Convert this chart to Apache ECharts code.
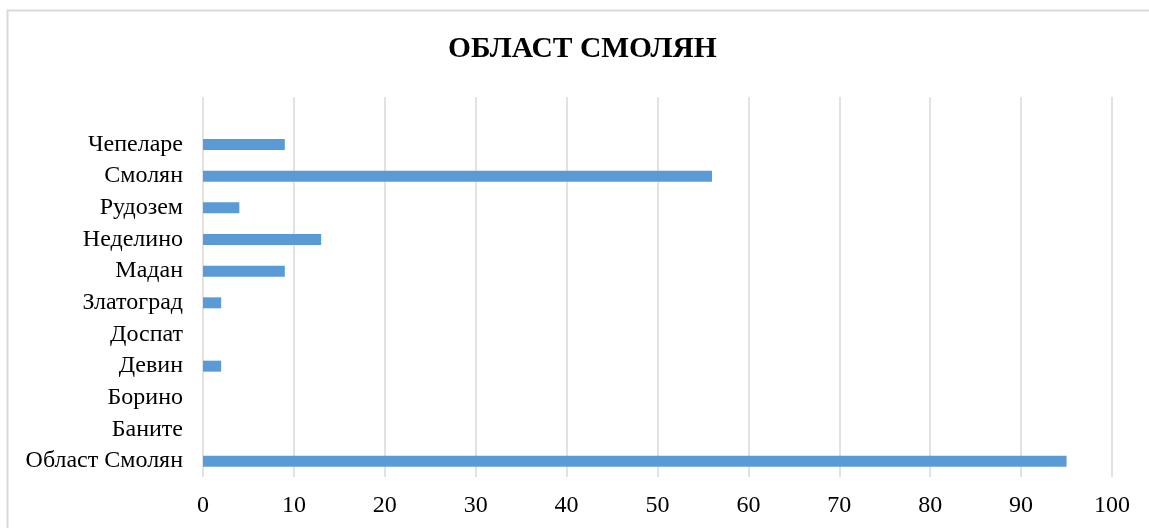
<!DOCTYPE html>
<html>
<head>
<meta charset="utf-8">
<script src="https://cdn.jsdelivr.net/npm/echarts@6/dist/echarts.min.js"></script>
<style>
html,body{margin:0;padding:0;background:#fff;}
#chart{width:1149px;height:528px;}
</style>
</head>
<body>
<div id="chart"></div>
<script>
// Categories bottom-to-top (Excel order); last empty slot is the blank top row
const categories = ['Област Смолян','Баните','Борино','Девин','Доспат','Златоград','Мадан','Неделино','Рудозем','Смолян','Чепеларе',''];
const values = [95, 0, 0, 2, 0, 2, 9, 13, 4, 56, 9, null];
const xTicks = [0,10,20,30,40,50,60,70,80,90,100];
const titleText = 'ОБЛАСТ СМОЛЯН';

const chart = echarts.init(document.getElementById('chart'), null, {renderer:'canvas'});
const serif = '"Liberation Serif", "Times New Roman", serif';
chart.setOption({
  animation:false,
  backgroundColor:'#fff',
  title:{
    text:titleText,
    left:443, top:29,
    textStyle:{fontFamily:serif, fontWeight:'bold', fontSize:29.5, color:'#000'}
  },
  graphic:[{
    type:'rect', silent:true, x:0, y:0,
    shape:{x:7.5,y:10.5,width:1150,height:530},
    style:{fill:'none', stroke:'#d9d9d9', lineWidth:2}
  }],
  grid:{left:203, right:37, top:97, bottom:51, containLabel:false},
  xAxis:{
    type:'value', min:xTicks[0], max:xTicks[xTicks.length-1], interval:10,
    axisLine:{show:false}, axisTick:{show:false},
    splitLine:{show:true, lineStyle:{color:'#d9d9d9', width:1.5}},
    axisLabel:{fontFamily:serif, fontSize:24, color:'#000', margin:17}
  },
  yAxis:{
    type:'category', data:categories,
    axisLine:{show:false}, axisTick:{show:false},
    axisLabel:{fontFamily:serif, fontSize:24, color:'#000', margin:20}
  },
  series:[{
    type:'bar', data:values, barWidth:11,
    itemStyle:{color:'#5b9bd5'}
  }]
});
</script>
</body>
</html>
